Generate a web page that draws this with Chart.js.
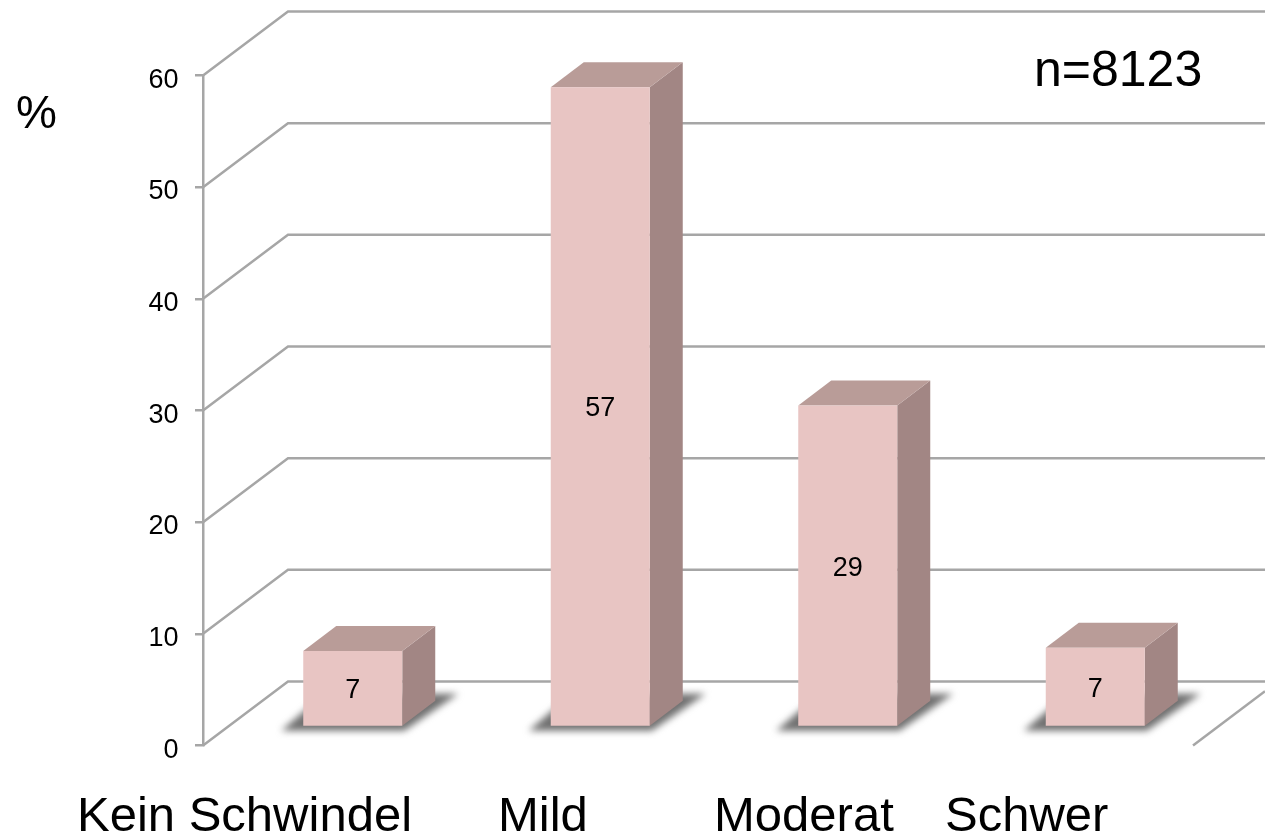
<!DOCTYPE html>
<html>
<head>
<meta charset="utf-8">
<script src="https://cdn.jsdelivr.net/npm/chart.js@4"></script>
<style>
html, body { margin: 0; padding: 0; background: #fff; }
canvas { display: block; }
</style>
</head>
<body>
<canvas id="schwindel-chart" width="1265" height="834"></canvas>
<script>
const categories = ['Kein Schwindel', 'Mild', 'Moderat', 'Schwer'];
const values = [6.8, 57.3, 28.8, 7.1];
const yTicks = [0, 10, 20, 30, 40, 50, 60];
const yUnit = '%';
const sampleSize = 'n=8123';

const FONT = '"Liberation Sans", Arial, sans-serif';
const GRID = '#a6a6a6';
const labelLefts = [77, 498, 714, 945];

// back wall depth of the fake 3D box
const wallDx = 85, wallDy = 64;
// bars stand a bit inside the floor
const barDx = 26, barDy = -18.5;
const sideDx = 33, sideDy = 25;

function poly(ctx, pts, fill) {
    ctx.fillStyle = fill;
    ctx.beginPath();
    pts.forEach((p, i) => i ? ctx.lineTo(p[0], p[1]) : ctx.moveTo(p[0], p[1]));
    ctx.closePath();
    ctx.fill();
}

const box3d = {
    id: 'box3d',
    beforeDatasetsDraw(chart) {
        const ctx = chart.ctx, y = chart.scales.y, area = chart.chartArea;
        ctx.save();
        ctx.strokeStyle = GRID;
        ctx.lineWidth = 2.5;
        yTicks.forEach(t => {
            const py = y.getPixelForValue(t);
            ctx.beginPath();
            ctx.moveTo(area.left, py);
            ctx.lineTo(area.left + wallDx, py - wallDy);
            ctx.lineTo(chart.width, py - wallDy);
            ctx.stroke();
        });
        // floor edge on the right
        ctx.beginPath();
        ctx.moveTo(area.right, area.bottom);
        ctx.lineTo(chart.width, area.bottom - (chart.width - area.right) * wallDy / wallDx);
        ctx.stroke();

        // tick labels sit a little under their ticks, so not the scale's own
        ctx.fillStyle = '#000';
        ctx.font = '27px ' + FONT;
        ctx.textAlign = 'right';
        ctx.textBaseline = 'alphabetic';
        yTicks.forEach(t => ctx.fillText(String(t), 178.5, y.getPixelForValue(t) + 12));
        ctx.restore();

        ctx.save();
        ctx.translate(barDx, barDy);
        chart.getDatasetMeta(0).data.forEach(bar => {
            const l = bar.x - bar.width / 2, r = bar.x + bar.width / 2;
            const t = bar.y, b = bar.base;
            ctx.save();
            ctx.filter = 'blur(3.5px)';
            poly(ctx, [[l - 22, b + 5], [r + 2, b + 5], [r + 56, b - 32], [r + 28, b - 32], [l + 14, b - 26]], '#707070');
            ctx.restore();
            poly(ctx, [[r, t], [r + sideDx, t - sideDy], [r + sideDx, b - sideDy], [r, b]], '#a28684');
            poly(ctx, [[l, t], [l + sideDx, t - sideDy], [r + sideDx, t - sideDy], [r, t]], '#b99c98');
        });
    },
    afterDatasetsDraw(chart) {
        const ctx = chart.ctx;
        ctx.fillStyle = '#000';
        ctx.font = '27px ' + FONT;
        ctx.textAlign = 'center';
        ctx.textBaseline = 'alphabetic';
        chart.getDatasetMeta(0).data.forEach((bar, i) => {
            ctx.fillText(String(Math.round(values[i])), bar.x, (bar.y + bar.base) / 2 + 10);
        });
        ctx.restore();

        ctx.save();
        ctx.fillStyle = '#000';
        ctx.textAlign = 'left';
        ctx.textBaseline = 'alphabetic';
        ctx.font = '49px ' + FONT;
        categories.forEach((c, i) => ctx.fillText(c, labelLefts[i], 831));
        ctx.font = '46px ' + FONT;
        ctx.fillText(yUnit, 16, 128);
        ctx.font = '50px ' + FONT;
        ctx.fillText(sampleSize, 1034, 86);
        ctx.restore();
    }
};

new Chart(document.getElementById('schwindel-chart'), {
    type: 'bar',
    data: {
        labels: categories,
        datasets: [{
            data: values,
            backgroundColor: '#e8c5c3',
            borderWidth: 0,
            barPercentage: 0.4,
            categoryPercentage: 1,
            clip: false
        }]
    },
    options: {
        responsive: false,
        animation: false,
        layout: { padding: { top: 75.5, bottom: 88.5, left: 0, right: 72 } },
        plugins: { legend: { display: false }, tooltip: { enabled: false } },
        scales: {
            x: { display: false },
            y: {
                min: 0,
                max: 60,
                afterFit: scale => { scale.width = 203; },
                afterBuildTicks: scale => { scale.ticks = yTicks.map(v => ({ value: v })); },
                border: { color: GRID, width: 2.5 },
                grid: { drawOnChartArea: false, color: GRID, lineWidth: 2.5, tickLength: 8 },
                ticks: { display: false }
            }
        }
    },
    plugins: [box3d]
});
</script>
</body>
</html>
